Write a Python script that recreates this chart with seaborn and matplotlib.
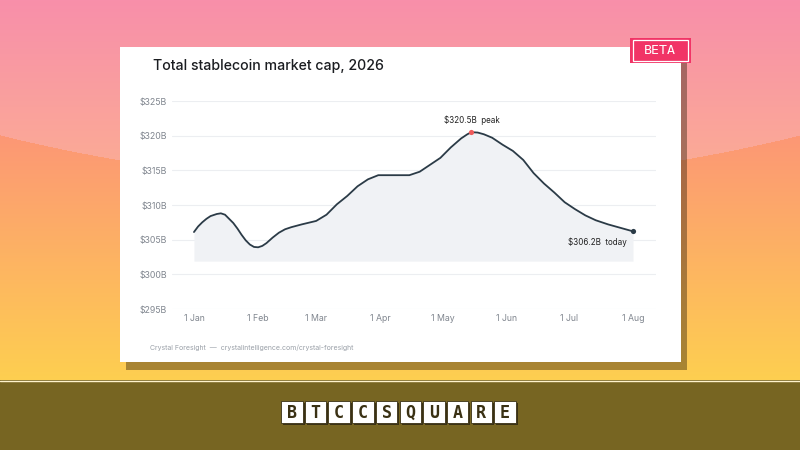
import numpy as np
import pandas as pd
import matplotlib
matplotlib.use("Agg")
import matplotlib.pyplot as plt
from matplotlib.patches import Rectangle
import seaborn as sns

# market cap readings, $B
dates = ["2026-01-01", "2026-01-03", "2026-01-05", "2026-01-07", "2026-01-09",
         "2026-01-12", "2026-01-14", "2026-01-16", "2026-01-18", "2026-01-20",
         "2026-01-22", "2026-01-24", "2026-01-26", "2026-01-28", "2026-01-30",
         "2026-02-01", "2026-02-03", "2026-02-05", "2026-02-08", "2026-02-11",
         "2026-02-14", "2026-02-17", "2026-02-22", "2026-03-01", "2026-03-06",
         "2026-03-11", "2026-03-16", "2026-03-21", "2026-03-26", "2026-03-31",
         "2026-04-08", "2026-04-15", "2026-04-20", "2026-04-25", "2026-04-30",
         "2026-05-05", "2026-05-10", "2026-05-13", "2026-05-15", "2026-05-18",
         "2026-05-21", "2026-05-25", "2026-05-30", "2026-06-04", "2026-06-09",
         "2026-06-14", "2026-06-19", "2026-06-24", "2026-06-29", "2026-07-04",
         "2026-07-09", "2026-07-14", "2026-07-20", "2026-07-26", "2026-08-01"]
market_cap = [306.1, 306.9, 307.5, 308.0, 308.4,
              308.7, 308.8, 308.6, 308.0, 307.4,
              306.6, 305.7, 304.9, 304.3, 303.95,
              303.9, 304.1, 304.5, 305.3, 306.0,
              306.5, 306.8, 307.2, 307.7, 308.6,
              310.1, 311.3, 312.7, 313.7, 314.3,
              314.3, 314.3, 314.8, 315.8, 316.8,
              318.3, 319.6, 320.2, 320.5, 320.45,
              320.2, 319.7, 318.7, 317.8, 316.5,
              314.6, 313.1, 311.8, 310.4, 309.4,
              308.5, 307.8, 307.2, 306.7, 306.2]

y_ticks = [295, 300, 305, 310, 315, 320, 325]
month_ticks = ["2026-01-01", "2026-02-01", "2026-03-01", "2026-04-01",
               "2026-05-01", "2026-06-01", "2026-07-01", "2026-08-01"]
month_labels = ["1 Jan", "1 Feb", "1 Mar", "1 Apr", "1 May", "1 Jun", "1 Jul", "1 Aug"]
logo_letters = list("BTCCSQUARE")

df = pd.DataFrame({"date": pd.to_datetime(dates), "value": market_cap})

sns.set_style("white")
plt.rcParams["font.family"] = ["Inter", "DejaVu Sans"]

fig = plt.figure(figsize=(8, 4.5), dpi=100)

# background layer in pixel coords
bg = fig.add_axes([0, 0, 1, 1], zorder=0)
bg.set_xlim(0, 800)
bg.set_ylim(450, 0)
bg.axis("off")

H, W = 450, 800
yy, xx = np.mgrid[0:H, 0:W].astype(float)
curve = 135 + 49 * (1 - ((xx - 400) / 400) ** 2)
t_up = np.clip(yy / 160, 0, 1)[..., None]
t_lo = np.clip((yy - 130) / 250, 0, 1)[..., None]
up = np.array([248, 143, 170]) * (1 - t_up) + np.array([251, 170, 150]) * t_up
lo = np.array([252, 150, 118]) * (1 - t_lo) + np.array([254, 207, 80]) * t_lo
img = np.where((yy < curve)[..., None], up, lo) / 255
bg.imshow(img, extent=[0, 800, 450, 0], interpolation="bilinear", aspect="auto")

# bottom band with logo
bg.add_patch(Rectangle((0, 380), 800, 70, color="#776522", lw=0))
bg.plot([0, 800], [380.5, 380.5], color="#fff3cc", lw=1)
for i, ch in enumerate(logo_letters):
    x0 = 281 + i * 23.7
    bg.add_patch(Rectangle((x0 + 2, 403), 21.5, 22, color="#3a3114", lw=0))
    bg.add_patch(Rectangle((x0, 401), 21.5, 22, facecolor="white",
                           edgecolor="#3a3114", lw=0.6))
    bg.text(x0 + 10.75, 412.5, ch, ha="center", va="center", fontsize=12,
            family="DejaVu Sans Mono", weight="bold", color="#3a3114")

# card + shadow
bg.add_patch(Rectangle((126, 54), 561, 316, color="#2a1a05", alpha=0.4, lw=0))
bg.add_patch(Rectangle((120, 47), 561, 315, color="white", lw=0))

# beta badge
bg.add_patch(Rectangle((630, 37.5), 60.5, 25.5, color="#f13466", lw=0))
bg.add_patch(Rectangle((632.5, 40), 55.5, 20.5, facecolor="none",
                       edgecolor="white", lw=0.9))
bg.text(660, 50.5, "BETA", ha="center", va="center", fontsize=9.5,
        family="DejaVu Sans Mono", color="white")

bg.text(153, 66, "Total stablecoin market cap, 2026", ha="left", va="center",
        fontsize=10.2, weight="medium", color="#1b1d21")
bg.text(150, 348, "Crystal Foresight  \u2014  crystalintelligence.com/crystal-foresight",
        ha="left", va="center", fontsize=5.0, color="#9aa0a8")

# chart
ax = fig.add_axes([172 / 800, 1 - 309 / 450, 484 / 800, 208 / 450], zorder=1)
ax.patch.set_alpha(0)

base = min(market_cap) - 2
ax.fill_between(df["date"], df["value"], base, color="#f0f2f5", lw=0)
sns.lineplot(data=df, x="date", y="value", ax=ax, color="#2b3b47", lw=1.3)

peak_i = int(np.argmax(market_cap))
peak_d, peak_v = df["date"][peak_i], market_cap[peak_i]
last_d, last_v = df["date"].iloc[-1], market_cap[-1]
ax.scatter([peak_d], [peak_v], s=14, color="#ef5a5a", zorder=5, lw=0)
ax.scatter([last_d], [last_v], s=14, color="#2b3b47", zorder=5, lw=0)
ax.annotate(f"${peak_v:.1f}B  peak", (peak_d, peak_v), xytext=(0, 8.5),
            textcoords="offset points", ha="center", va="center",
            fontsize=5.8, color="#222222", annotation_clip=False)
ax.annotate(f"${last_v:.1f}B  today", (last_d, last_v), xytext=(-4.3, -7.6),
            textcoords="offset points", ha="right", va="center",
            fontsize=5.8, color="#222222", annotation_clip=False)

start = pd.Timestamp("2026-01-01") - pd.Timedelta(days=10.6)
end = pd.Timestamp("2026-08-01") + pd.Timedelta(days=11.1)
ax.set_xlim(start, end)
ax.set_ylim(295, 325)
ax.set_yticks(y_ticks)
ax.set_yticklabels([f"${v}B" for v in y_ticks])
ax.set_xticks(pd.to_datetime(month_ticks))
ax.set_xticklabels(month_labels)
ax.set_xlabel("")
ax.set_ylabel("")
ax.grid(axis="y", color="#eceef1", lw=0.8)
ax.grid(axis="x", visible=False)
for s in ax.spines.values():
    s.set_visible(False)
ax.tick_params(axis="both", length=2.2, width=0.6, color="#cfd3d8",
               labelcolor="#80868f", labelsize=6.3, pad=1.2)
ax.tick_params(axis="x", pad=1.5)

fig.savefig("out.png", dpi=100)
